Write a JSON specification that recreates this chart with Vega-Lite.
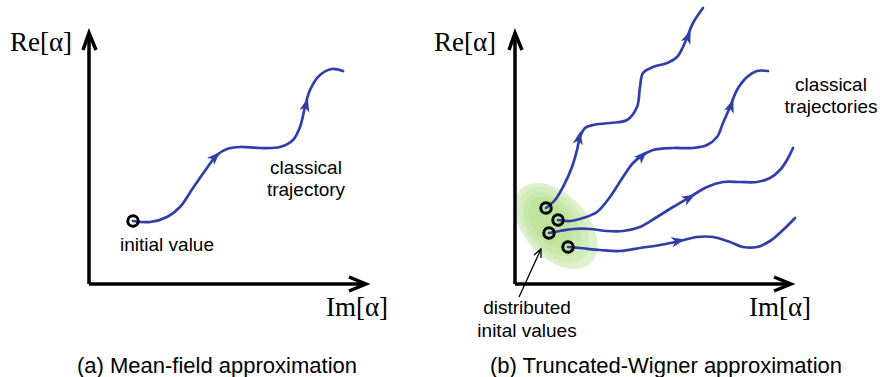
{
  "$schema": "https://vega.github.io/schema/vega-lite/v6.json",
  "width": 880,
  "height": 377,
  "padding": 0,
  "autosize": {"type": "fit", "contains": "padding"},
  "config": {"view": {"stroke": null}},
  "datasets": {
    "lines": [
      {"id": "a_yaxis", "kind": "axis", "o": 0, "x": 89, "y": 284},
      {"id": "a_yaxis", "kind": "axis", "o": 1, "x": 89, "y": 33},
      {"id": "a_xaxis", "kind": "axis", "o": 0, "x": 89, "y": 284},
      {"id": "a_xaxis", "kind": "axis", "o": 1, "x": 366, "y": 284},
      {"id": "a_yhead", "kind": "axis", "o": 0, "x": 83, "y": 50},
      {"id": "a_yhead", "kind": "axis", "o": 1, "x": 89, "y": 33},
      {"id": "a_yhead", "kind": "axis", "o": 2, "x": 96, "y": 50},
      {"id": "a_xhead", "kind": "axis", "o": 0, "x": 349, "y": 277},
      {"id": "a_xhead", "kind": "axis", "o": 1, "x": 366, "y": 284},
      {"id": "a_xhead", "kind": "axis", "o": 2, "x": 349, "y": 291},
      {"id": "b_yaxis", "kind": "axis", "o": 0, "x": 515, "y": 284},
      {"id": "b_yaxis", "kind": "axis", "o": 1, "x": 515, "y": 33},
      {"id": "b_xaxis", "kind": "axis", "o": 0, "x": 515, "y": 284},
      {"id": "b_xaxis", "kind": "axis", "o": 1, "x": 791, "y": 284},
      {"id": "b_yhead", "kind": "axis", "o": 0, "x": 509, "y": 50},
      {"id": "b_yhead", "kind": "axis", "o": 1, "x": 515, "y": 33},
      {"id": "b_yhead", "kind": "axis", "o": 2, "x": 522, "y": 50},
      {"id": "b_xhead", "kind": "axis", "o": 0, "x": 774, "y": 277},
      {"id": "b_xhead", "kind": "axis", "o": 1, "x": 791, "y": 284},
      {"id": "b_xhead", "kind": "axis", "o": 2, "x": 774, "y": 291},

      {"id": "ptr", "kind": "pointer", "o": 0, "x": 519, "y": 297},
      {"id": "ptr", "kind": "pointer", "o": 1, "x": 541, "y": 249},
      {"id": "ptrh", "kind": "pointer", "o": 0, "x": 534, "y": 255},
      {"id": "ptrh", "kind": "pointer", "o": 1, "x": 541, "y": 249},
      {"id": "ptrh", "kind": "pointer", "o": 2, "x": 541, "y": 258},

      {"id": "ca", "kind": "curve", "o": 0, "x": 133, "y": 221},
      {"id": "ca", "kind": "curve", "o": 1, "x": 150, "y": 222},
      {"id": "ca", "kind": "curve", "o": 2, "x": 167, "y": 217},
      {"id": "ca", "kind": "curve", "o": 3, "x": 180, "y": 207},
      {"id": "ca", "kind": "curve", "o": 4, "x": 193, "y": 188},
      {"id": "ca", "kind": "curve", "o": 5, "x": 207, "y": 168},
      {"id": "ca", "kind": "curve", "o": 6, "x": 217, "y": 155},
      {"id": "ca", "kind": "curve", "o": 7, "x": 227, "y": 149},
      {"id": "ca", "kind": "curve", "o": 8, "x": 240, "y": 147},
      {"id": "ca", "kind": "curve", "o": 9, "x": 260, "y": 148},
      {"id": "ca", "kind": "curve", "o": 10, "x": 280, "y": 147},
      {"id": "ca", "kind": "curve", "o": 11, "x": 293, "y": 140},
      {"id": "ca", "kind": "curve", "o": 12, "x": 300, "y": 127},
      {"id": "ca", "kind": "curve", "o": 13, "x": 305, "y": 107},
      {"id": "ca", "kind": "curve", "o": 14, "x": 310, "y": 90},
      {"id": "ca", "kind": "curve", "o": 15, "x": 320, "y": 75},
      {"id": "ca", "kind": "curve", "o": 16, "x": 332, "y": 69},
      {"id": "ca", "kind": "curve", "o": 17, "x": 343, "y": 71},

      {"id": "c1", "kind": "curve", "o": 0, "x": 546, "y": 208},
      {"id": "c1", "kind": "curve", "o": 1, "x": 555, "y": 200},
      {"id": "c1", "kind": "curve", "o": 2, "x": 563, "y": 187},
      {"id": "c1", "kind": "curve", "o": 3, "x": 572, "y": 167},
      {"id": "c1", "kind": "curve", "o": 4, "x": 577, "y": 150},
      {"id": "c1", "kind": "curve", "o": 5, "x": 580, "y": 137},
      {"id": "c1", "kind": "curve", "o": 6, "x": 585, "y": 128},
      {"id": "c1", "kind": "curve", "o": 7, "x": 593, "y": 125},
      {"id": "c1", "kind": "curve", "o": 8, "x": 610, "y": 123},
      {"id": "c1", "kind": "curve", "o": 9, "x": 627, "y": 120},
      {"id": "c1", "kind": "curve", "o": 10, "x": 637, "y": 107},
      {"id": "c1", "kind": "curve", "o": 11, "x": 640, "y": 87},
      {"id": "c1", "kind": "curve", "o": 12, "x": 643, "y": 73},
      {"id": "c1", "kind": "curve", "o": 13, "x": 653, "y": 67},
      {"id": "c1", "kind": "curve", "o": 14, "x": 667, "y": 63},
      {"id": "c1", "kind": "curve", "o": 15, "x": 677, "y": 57},
      {"id": "c1", "kind": "curve", "o": 16, "x": 683, "y": 47},
      {"id": "c1", "kind": "curve", "o": 17, "x": 688, "y": 35},
      {"id": "c1", "kind": "curve", "o": 18, "x": 693, "y": 23},
      {"id": "c1", "kind": "curve", "o": 19, "x": 703, "y": 8},

      {"id": "c2", "kind": "curve", "o": 0, "x": 558, "y": 220},
      {"id": "c2", "kind": "curve", "o": 1, "x": 570, "y": 221},
      {"id": "c2", "kind": "curve", "o": 2, "x": 583, "y": 218},
      {"id": "c2", "kind": "curve", "o": 3, "x": 597, "y": 212},
      {"id": "c2", "kind": "curve", "o": 4, "x": 610, "y": 197},
      {"id": "c2", "kind": "curve", "o": 5, "x": 623, "y": 177},
      {"id": "c2", "kind": "curve", "o": 6, "x": 633, "y": 163},
      {"id": "c2", "kind": "curve", "o": 7, "x": 643, "y": 155},
      {"id": "c2", "kind": "curve", "o": 8, "x": 653, "y": 150},
      {"id": "c2", "kind": "curve", "o": 9, "x": 673, "y": 148},
      {"id": "c2", "kind": "curve", "o": 10, "x": 693, "y": 148},
      {"id": "c2", "kind": "curve", "o": 11, "x": 707, "y": 145},
      {"id": "c2", "kind": "curve", "o": 12, "x": 717, "y": 137},
      {"id": "c2", "kind": "curve", "o": 13, "x": 723, "y": 123},
      {"id": "c2", "kind": "curve", "o": 14, "x": 730, "y": 107},
      {"id": "c2", "kind": "curve", "o": 15, "x": 737, "y": 90},
      {"id": "c2", "kind": "curve", "o": 16, "x": 747, "y": 77},
      {"id": "c2", "kind": "curve", "o": 17, "x": 757, "y": 71},
      {"id": "c2", "kind": "curve", "o": 18, "x": 768, "y": 71},

      {"id": "c3", "kind": "curve", "o": 0, "x": 549, "y": 233},
      {"id": "c3", "kind": "curve", "o": 1, "x": 560, "y": 231},
      {"id": "c3", "kind": "curve", "o": 2, "x": 573, "y": 229},
      {"id": "c3", "kind": "curve", "o": 3, "x": 590, "y": 229},
      {"id": "c3", "kind": "curve", "o": 4, "x": 607, "y": 231},
      {"id": "c3", "kind": "curve", "o": 5, "x": 623, "y": 231},
      {"id": "c3", "kind": "curve", "o": 6, "x": 640, "y": 227},
      {"id": "c3", "kind": "curve", "o": 7, "x": 657, "y": 217},
      {"id": "c3", "kind": "curve", "o": 8, "x": 673, "y": 207},
      {"id": "c3", "kind": "curve", "o": 9, "x": 690, "y": 197},
      {"id": "c3", "kind": "curve", "o": 10, "x": 707, "y": 187},
      {"id": "c3", "kind": "curve", "o": 11, "x": 723, "y": 182},
      {"id": "c3", "kind": "curve", "o": 12, "x": 740, "y": 182},
      {"id": "c3", "kind": "curve", "o": 13, "x": 757, "y": 182},
      {"id": "c3", "kind": "curve", "o": 14, "x": 770, "y": 178},
      {"id": "c3", "kind": "curve", "o": 15, "x": 780, "y": 170},
      {"id": "c3", "kind": "curve", "o": 16, "x": 787, "y": 160},
      {"id": "c3", "kind": "curve", "o": 17, "x": 793, "y": 148},

      {"id": "c4", "kind": "curve", "o": 0, "x": 568, "y": 247},
      {"id": "c4", "kind": "curve", "o": 1, "x": 580, "y": 248},
      {"id": "c4", "kind": "curve", "o": 2, "x": 600, "y": 250},
      {"id": "c4", "kind": "curve", "o": 3, "x": 620, "y": 251},
      {"id": "c4", "kind": "curve", "o": 4, "x": 640, "y": 248},
      {"id": "c4", "kind": "curve", "o": 5, "x": 660, "y": 245},
      {"id": "c4", "kind": "curve", "o": 6, "x": 680, "y": 241},
      {"id": "c4", "kind": "curve", "o": 7, "x": 697, "y": 237},
      {"id": "c4", "kind": "curve", "o": 8, "x": 713, "y": 237},
      {"id": "c4", "kind": "curve", "o": 9, "x": 730, "y": 242},
      {"id": "c4", "kind": "curve", "o": 10, "x": 743, "y": 247},
      {"id": "c4", "kind": "curve", "o": 11, "x": 757, "y": 247},
      {"id": "c4", "kind": "curve", "o": 12, "x": 770, "y": 241},
      {"id": "c4", "kind": "curve", "o": 13, "x": 783, "y": 230},
      {"id": "c4", "kind": "curve", "o": 14, "x": 795, "y": 218}
    ],
    "heads": [
      {"x": 215, "y": 157, "dir": 45},
      {"x": 306, "y": 105, "dir": 15},
      {"x": 579, "y": 138, "dir": 12},
      {"x": 688, "y": 37, "dir": 22},
      {"x": 642, "y": 156, "dir": 45},
      {"x": 731, "y": 106, "dir": 20},
      {"x": 689, "y": 198, "dir": 60},
      {"x": 678, "y": 241, "dir": 78}
    ],
    "starts": [
      {"x": 133, "y": 221},
      {"x": 546, "y": 208},
      {"x": 558, "y": 220},
      {"x": 549, "y": 233},
      {"x": 568, "y": 247}
    ],
    "blob": [
      {"x": 556, "y": 226, "k": "r1"},
      {"x": 554, "y": 225, "k": "r2"},
      {"x": 552, "y": 224, "k": "r3"},
      {"x": 550, "y": 222, "k": "r4"}
    ],
    "labels": [
      {"t": "Re[α]", "k": "math", "x": 41, "y": 43},
      {"t": "Im[α]", "k": "math", "x": 357, "y": 308},
      {"t": "Re[α]", "k": "math", "x": 465, "y": 43},
      {"t": "Im[α]", "k": "math", "x": 780, "y": 308},
      {"t": "initial value", "k": "sans", "x": 167, "y": 245},
      {"t": "classical", "k": "sans", "x": 306, "y": 168},
      {"t": "trajectory", "k": "sans", "x": 306, "y": 190},
      {"t": "classical", "k": "sans", "x": 831, "y": 85},
      {"t": "trajectories", "k": "sans", "x": 831, "y": 107},
      {"t": "distributed", "k": "sans", "x": 527, "y": 308},
      {"t": "inital values", "k": "sans", "x": 527, "y": 331},
      {"t": "(a) Mean-field approximation", "k": "caption", "x": 217, "y": 366},
      {"t": "(b) Truncated-Wigner approximation", "k": "caption", "x": 666, "y": 366}
    ]
  },
  "encoding": {
    "x": {"field": "x", "type": "quantitative", "scale": {"domain": [0, 880], "nice": false, "zero": false}, "axis": null},
    "y": {"field": "y", "type": "quantitative", "scale": {"domain": [377, 0], "nice": false, "zero": false}, "axis": null}
  },
  "layer": [
    {
      "data": {"name": "blob"},
      "transform": [{"filter": "datum.k == 'r1'"}],
      "mark": {"type": "point", "filled": true, "shape": "M1,0C1,0.343 0.552,0.62 0,0.62C-0.552,0.62 -1,0.343 -1,0C-1,-0.343 -0.552,-0.62 0,-0.62C0.552,-0.62 1,-0.343 1,0Z", "size": 10400, "angle": 47, "color": "#a9db7c", "opacity": 0.38}
    },
    {
      "data": {"name": "blob"},
      "transform": [{"filter": "datum.k == 'r2'"}],
      "mark": {"type": "point", "filled": true, "shape": "M1,0C1,0.343 0.552,0.62 0,0.62C-0.552,0.62 -1,0.343 -1,0C-1,-0.343 -0.552,-0.62 0,-0.62C0.552,-0.62 1,-0.343 1,0Z", "size": 7800, "angle": 50, "color": "#a9db7c", "opacity": 0.22}
    },
    {
      "data": {"name": "blob"},
      "transform": [{"filter": "datum.k == 'r3'"}],
      "mark": {"type": "point", "filled": true, "shape": "M1,0C1,0.343 0.552,0.62 0,0.62C-0.552,0.62 -1,0.343 -1,0C-1,-0.343 -0.552,-0.62 0,-0.62C0.552,-0.62 1,-0.343 1,0Z", "size": 5300, "angle": 52, "color": "#a9db7c", "opacity": 0.25}
    },
    {
      "data": {"name": "blob"},
      "transform": [{"filter": "datum.k == 'r4'"}],
      "mark": {"type": "point", "filled": true, "shape": "M1,0C1,0.343 0.552,0.62 0,0.62C-0.552,0.62 -1,0.343 -1,0C-1,-0.343 -0.552,-0.62 0,-0.62C0.552,-0.62 1,-0.343 1,0Z", "size": 3200, "angle": 55, "color": "#a9db7c", "opacity": 0.28}
    },
    {
      "data": {"name": "lines"},
      "transform": [{"filter": "datum.kind == 'axis'"}],
      "mark": {"type": "line", "color": "#000000", "strokeWidth": 3.5, "strokeCap": "butt", "strokeJoin": "miter"},
      "encoding": {"detail": {"field": "id"}, "order": {"field": "o", "type": "quantitative"}}
    },
    {
      "data": {"name": "lines"},
      "transform": [{"filter": "datum.kind == 'pointer'"}],
      "mark": {"type": "line", "color": "#000000", "strokeWidth": 1.3},
      "encoding": {"detail": {"field": "id"}, "order": {"field": "o", "type": "quantitative"}}
    },
    {
      "data": {"name": "lines"},
      "transform": [{"filter": "datum.kind == 'curve'"}],
      "mark": {"type": "line", "color": "#2f3fa6", "strokeWidth": 2.7, "interpolate": "catmull-rom", "strokeCap": "round"},
      "encoding": {"detail": {"field": "id"}, "order": {"field": "o", "type": "quantitative"}}
    },
    {
      "data": {"name": "heads"},
      "mark": {"type": "point", "filled": true, "shape": "M0,-1L0.72,0.9L0,0.4L-0.72,0.9Z", "size": 200, "color": "#2f3fa6", "opacity": 1},
      "encoding": {"angle": {"field": "dir", "type": "quantitative", "scale": null}}
    },
    {
      "data": {"name": "starts"},
      "mark": {"type": "point", "shape": "circle", "size": 110, "stroke": "#000000", "strokeWidth": 3, "fill": null, "filled": false, "opacity": 1}
    },
    {
      "data": {"name": "labels"},
      "transform": [{"filter": "datum.k == 'math'"}],
      "mark": {"type": "text", "font": "Liberation Serif", "fontSize": 27, "align": "center", "baseline": "middle", "color": "#000000"},
      "encoding": {"text": {"field": "t"}}
    },
    {
      "data": {"name": "labels"},
      "transform": [{"filter": "datum.k == 'sans'"}],
      "mark": {"type": "text", "font": "Liberation Sans", "fontSize": 19, "align": "center", "baseline": "middle", "color": "#000000"},
      "encoding": {"text": {"field": "t"}}
    },
    {
      "data": {"name": "labels"},
      "transform": [{"filter": "datum.k == 'caption'"}],
      "mark": {"type": "text", "font": "Liberation Sans", "fontSize": 22, "align": "center", "baseline": "middle", "color": "#000000"},
      "encoding": {"text": {"field": "t"}}
    }
  ]
}
